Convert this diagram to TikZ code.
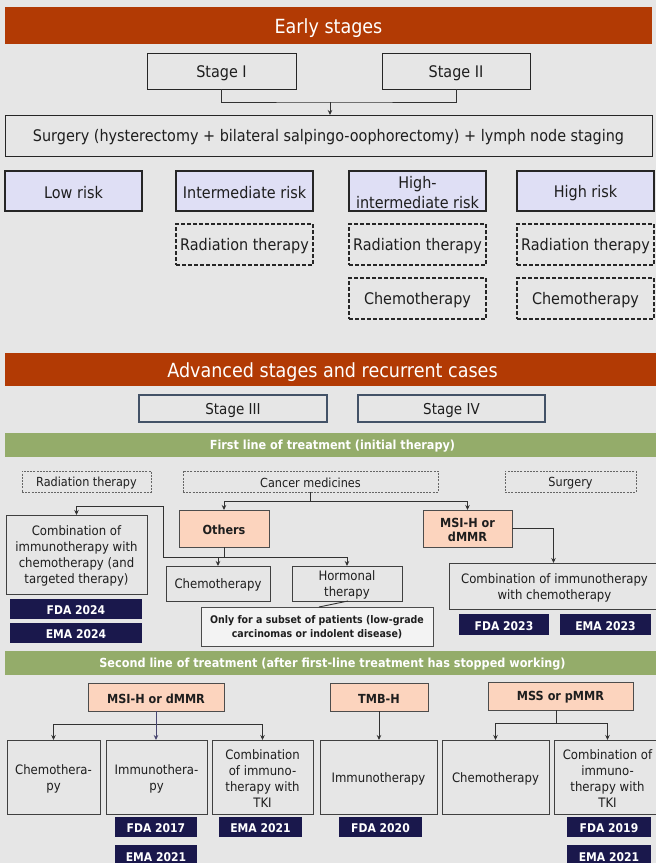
\documentclass[tikz,border=0pt]{standalone}
\usepackage{fontspec}
\setmainfont{DejaVu Sans}[FakeStretch=0.9]
\usetikzlibrary{arrows.meta,calc}
\definecolor{bgc}{RGB}{230,230,230}
\definecolor{hdrc}{RGB}{178,58,4}
\definecolor{grnc}{RGB}{148,172,106}
\definecolor{lavc}{RGB}{223,223,245}
\definecolor{pchc}{RGB}{252,212,190}
\definecolor{navc}{RGB}{26,24,76}
\definecolor{slc}{RGB}{67,82,103}
\definecolor{notec}{RGB}{243,243,243}
\definecolor{txc}{RGB}{30,30,30}
\definecolor{linc}{RGB}{50,50,50}
\newcommand\fs[2]{\fontsize{#1}{#2}\selectfont}
\newcommand\bx[7]{\node[#6,minimum width={(#4)-(#2)},minimum height={(#5)-(#3)}] (#1) at ({((#2)+(#4))/2},{((#3)+(#5))/2}) {\rule{0pt}{0.98em}#7};}
\tikzset{
  base/.style={inner sep=1pt,outer sep=0pt,align=center,text=txc},
  hdr/.style={base,fill=hdrc,text=white,font=\fs{19.5}{23}},
  ebox/.style={base,draw=black!85,line width=1pt,font=\fs{16}{19}},
  risk/.style={base,fill=lavc,draw=black!85,line width=1.8pt,font=\fs{16}{20}},
  dbox/.style={base,draw=black!85,line width=1.3pt,dash pattern=on 4pt off 2pt,font=\fs{16}{19}},
  stg/.style={base,draw=slc,line width=1.8pt,font=\fs{15}{18}},
  bar/.style={base,fill=grnc,text=white,font={\bfseries\fs{12.5}{15}}},
  dotb/.style={base,draw=black!60,line width=0.8pt,dash pattern=on 2pt off 1.2pt,font=\fs{12.5}{15}},
  wbox/.style={base,draw=black!75,line width=1pt,font=\fs{13}{16}},
  pch/.style={base,fill=pchc,draw=black!70,line width=1pt,font={\bfseries\fs{12.5}{14}}},
  tag/.style={base,fill=navc,text=white,font={\bfseries\fs{12}{14}}},
  note/.style={base,fill=notec,draw=black!70,line width=1pt,font={\bfseries\fs{10.5}{14}}},
  con/.style={draw=linc,line width=0.9pt},
  arr/.style={con,-{Stealth[length=5pt,width=4.5pt]}}
}
\begin{document}
\begin{tikzpicture}[x=1pt,y=-1pt]
\fill[bgc] (0,0) rectangle (656,863);
\useasboundingbox (0,0) rectangle (656,863);
% Early stages
\bx{h1}{5}{7}{652}{44}{hdr}{Early stages}
\bx{s1}{147}{53}{296}{89}{ebox}{Stage I}
\bx{s2}{382}{53}{530}{89}{ebox}{Stage II}
\bx{surg}{5}{115}{652}{156}{ebox}{Surgery (hysterectomy + bilateral salpingo-oophorectomy) + lymph node staging}
\coordinate (j1) at (330,102);
\draw[con] (s1.south) |- (j1) -| (s2.south);
\draw[arr] (j1) -- (j1 |- surg.north);
\bx{r1}{5}{171}{142}{211}{risk}{Low risk}
\bx{r2}{176}{171}{313}{211}{risk}{Intermediate risk}
\bx{r3}{349}{171}{486}{211}{risk}{High-\\intermediate risk}
\bx{r4}{517}{171}{654}{211}{risk}{High risk}
\bx{t2}{176}{224}{313}{265}{dbox}{Radiation therapy}
\bx{t3}{349}{224}{486}{265}{dbox}{Radiation therapy}
\bx{t4}{517}{224}{654}{265}{dbox}{Radiation therapy}
\bx{c3}{349}{278}{486}{319}{dbox}{Chemotherapy}
\bx{c4}{517}{278}{654}{319}{dbox}{Chemotherapy}
% Advanced
\bx{h2}{5}{353}{660}{386}{hdr}{Advanced stages and recurrent cases}
\bx{s3}{139}{395}{327}{422}{stg}{Stage III}
\bx{s4}{358}{395}{545}{422}{stg}{Stage IV}
\bx{b1}{5}{433}{660}{457}{bar}{First line of treatment (initial therapy)}
\bx{rt}{22}{471}{151}{492}{dotb}{Radiation therapy}
\bx{cm}{183}{471}{438}{492}{dotb}{Cancer medicines}
\bx{su}{505}{471}{636}{492}{dotb}{Surgery}
\bx{co1}{6}{515}{147}{594}{wbox}{Combination of\\immunotherapy with\\chemotherapy (and\\targeted therapy)}
\bx{f1}{10}{599}{142}{619}{tag}{FDA 2024}
\bx{e1}{10}{623}{142}{643}{tag}{EMA 2024}
\bx{oth}{179}{510}{269}{547}{pch}{Others}
\bx{msi}{423}{510}{512}{547}{pch}{MSI-H or\\dMMR}
\bx{ch1}{166}{566}{270}{601}{wbox}{Chemotherapy}
\bx{hor}{292}{566}{402}{601}{wbox}{Hormonal\\therapy}
\bx{nt}{201}{607}{433}{646}{note}{Only for a subset of patients (low-grade\\carcinomas or indolent disease)}
\bx{co2}{449}{563}{660}{609}{wbox}{Combination of immunotherapy\\with chemotherapy}
\bx{f2}{459}{614}{549}{635}{tag}{FDA 2023}
\bx{e2}{560}{614}{651}{635}{tag}{EMA 2023}
\draw[con] (cm.south) -- ++(0,9) coordinate (cmj);
\draw[arr] (cmj) -| (oth.north);
\draw[arr] (cmj) -| (msi.north);
\draw[con] (oth.south) -- ++(0,10) coordinate (oj);
\draw[arr] (oj) -| (ch1.north);
\draw[arr] (oj) -| (hor.north);
\coordinate (w1) at (163,506);
\draw[arr] ($(oj)+(14,0)$) -- (oj -| w1) -- (w1) -| (co1.north);
\draw[arr] (msi.east) -| ($(co2.north)+(-1,0)$);
\draw[con] ($(nt.north)+(2,0)$) -- ($(hor.south)+(1,0)$);
% Second line
\bx{b2}{5}{651}{660}{675}{bar}{Second line of treatment (after first-line treatment has stopped working)}
\bx{m2}{88}{683}{224}{711}{pch}{MSI-H or dMMR}
\bx{tmb}{330}{683}{428}{711}{pch}{TMB-H}
\bx{mss}{488}{682}{633}{710}{pch}{MSS or pMMR}
\bx{ch2}{7}{740}{100}{814}{wbox}{Chemothera-\\py}
\bx{im2}{106}{740}{207}{814}{wbox}{Immunothera-\\py}
\bx{cb2}{212}{740}{313}{814}{wbox}{Combination\\of immuno-\\therapy with\\TKI}
\bx{im3}{320}{740}{437}{814}{wbox}{Immunotherapy}
\bx{ch3}{442}{740}{549}{814}{wbox}{Chemotherapy}
\bx{cb3}{554}{740}{661}{814}{wbox}{Combination of\\immuno-\\therapy with\\TKI}
\bx{f3}{115}{817}{197}{837}{tag}{FDA 2017}
\bx{e3}{115}{845}{197}{866}{tag}{EMA 2021}
\bx{e4}{219}{817}{302}{837}{tag}{EMA 2021}
\bx{f4}{339}{817}{422}{837}{tag}{FDA 2020}
\bx{f5}{567}{817}{651}{837}{tag}{FDA 2019}
\bx{e5}{567}{845}{651}{866}{tag}{EMA 2021}
\draw[con] (m2.south) -- ++(0,13) coordinate (m2j);
\draw[arr] (m2j) -| (ch2.north);
\draw[arr] (m2j) -| (cb2.north);
\draw[arr,draw=navc!80] (m2.south) -- (im2.north -| m2.south);
\draw[arr] (tmb.south) -- (im3.north -| tmb.south);
\draw[con] ($(mss.south)+(-4,0)$) -- ++(0,13) coordinate (mj);
\draw[arr] (mj) -| (ch3.north);
\draw[arr] (mj) -| (cb3.north);
\end{tikzpicture}
\end{document}
